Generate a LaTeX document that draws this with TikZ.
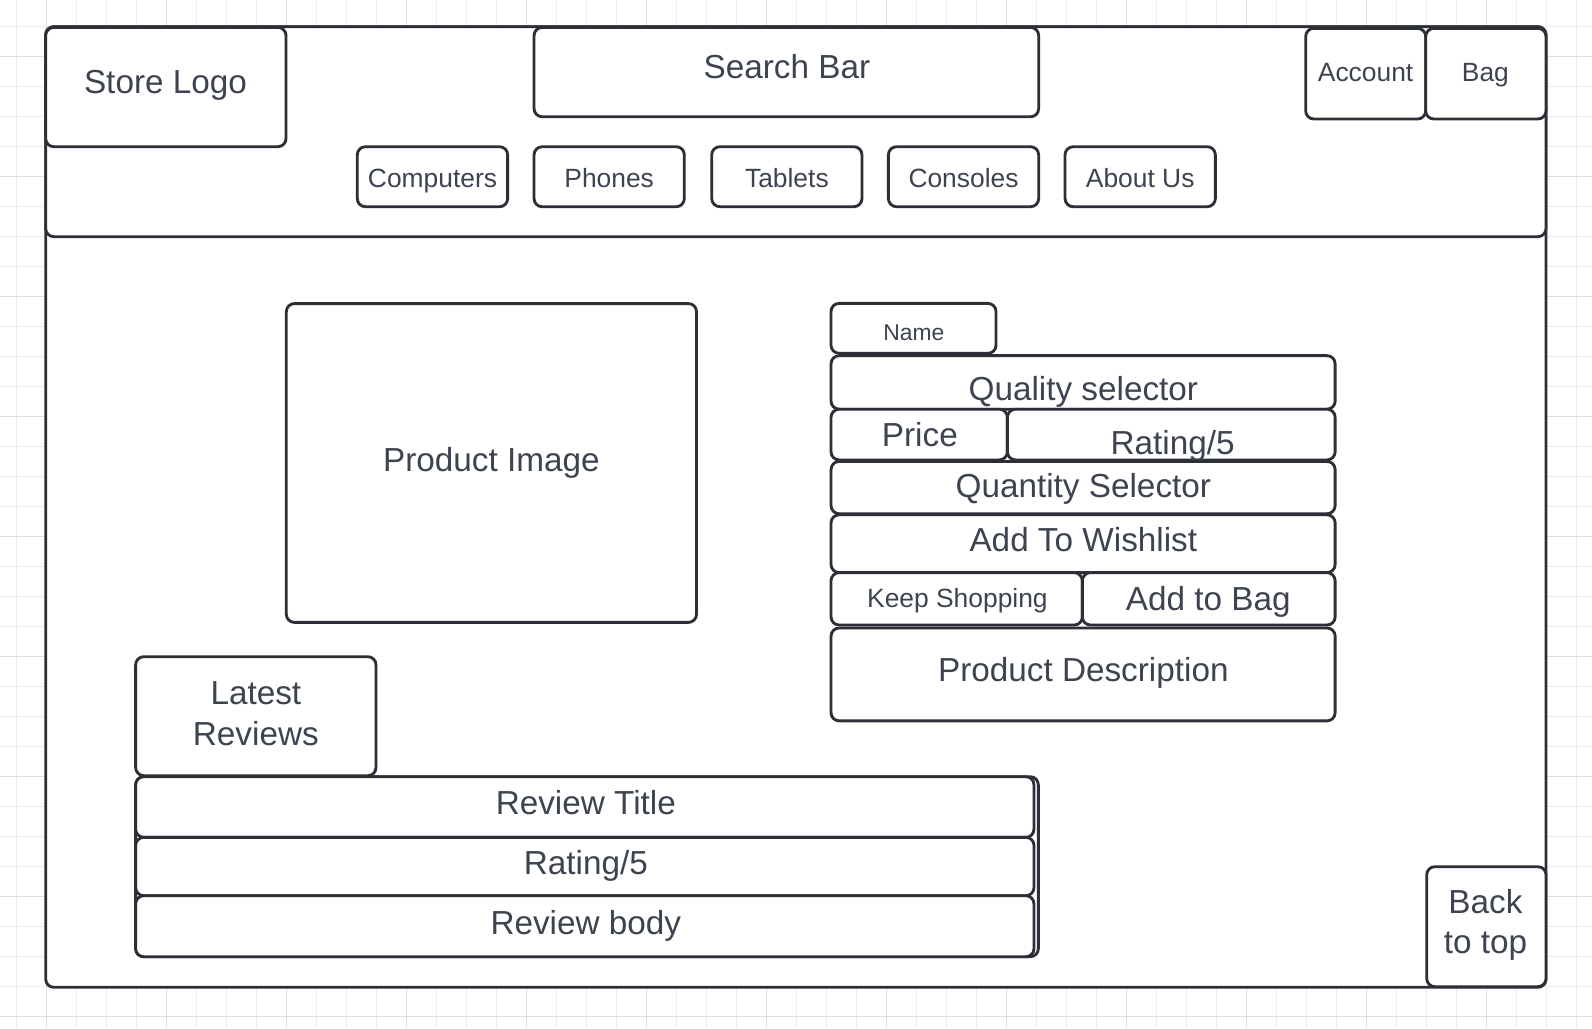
\documentclass[tikz,border=0pt]{standalone}
\usepackage{fontspec}
\setmainfont{Liberation Sans}
\definecolor{ln}{HTML}{2C2F36}
\definecolor{tx}{HTML}{3D4450}
\definecolor{gmin}{HTML}{EBEBEB}
\definecolor{gmaj}{HTML}{DDDDDD}
\tikzset{
  boxst/.style={draw=ln, line width=2.8pt, rounded corners=8pt, fill=white, inner sep=0pt, outer sep=0pt},
  txt/.style={text=tx, inner sep=0pt, outer sep=0pt, anchor=base},
  gridmin/.style={draw=gmin, line width=1pt},
  gridmaj/.style={draw=gmaj, line width=1pt},
}
\newcommand\fsz[1]{\fontsize{#1}{#1}\selectfont}
\newcommand\wbox[5]{\node[boxst, minimum width={#4pt-#2pt}, minimum height={#5pt-#3pt}] (#1) at ({(#2+#4)/2},{(#3+#5)/2}) {};}
\begin{document}
\begin{tikzpicture}[x=1pt,y=-1pt]
\fill[white] (0,0) rectangle (1568,1012.5);
\useasboundingbox (0,0) rectangle (1568,1012.5);
% grid
\foreach \i in {0,...,52} \draw[gridmin] ({16.45+29.55*\i},0) -- ({16.45+29.55*\i},1012.5);
\foreach \j in {0,...,33} \draw[gridmin] (0,{26.3+29.55*\j}) -- (1568,{26.3+29.55*\j});
\foreach \i in {0,...,12} \draw[gridmaj] ({46+118.2*\i},0) -- ({46+118.2*\i},1012.5);
\foreach \j in {0,...,8} \draw[gridmaj] (0,{55.8+118.2*\j}) -- (1568,{55.8+118.2*\j});
% frames
\wbox{page}{45}{26.3}{1522.7}{972.4}
\wbox{header}{45}{26.3}{1522.7}{233.1}
% header
\wbox{logo}{45}{27}{281.7}{144.5}
\node[txt, font=\fsz{32.8}] (logo-t) at (163,92) {Store Logo};
\wbox{search}{526}{27}{1023}{115}
\node[txt, font=\fsz{32.8}] (search-t) at (775,77) {Search Bar};
\wbox{account}{1286}{27.9}{1404.2}{117.2}
\node[txt, font=\fsz{26}] (account-t) at (1345,80.4) {Account};
\wbox{bag}{1404.2}{27.9}{1522.7}{117.2}
\node[txt, font=\fsz{26}] (bag-t) at (1463,80.4) {Bag};
\wbox{computers}{351.9}{144.5}{500}{203.6}
\node[txt, font=\fsz{26}] (computers-t) at (426,184.3) {Computers};
\wbox{phones}{526}{144.5}{674}{203.6}
\node[txt, font=\fsz{26}] (phones-t) at (600,184.3) {Phones};
\wbox{tablets}{701}{144.5}{849}{203.6}
\node[txt, font=\fsz{26}] (tablets-t) at (775,184.3) {Tablets};
\wbox{consoles}{875}{144.5}{1023}{203.6}
\node[txt, font=\fsz{26}] (consoles-t) at (949,184.3) {Consoles};
\wbox{about}{1049}{144.5}{1197}{203.6}
\node[txt, font=\fsz{26}] (about-t) at (1123,184.3) {About Us};
% product
\wbox{image}{282}{299}{686}{613}
\node[txt, font=\fsz{32.8}] (image-t) at (484,464) {Product Image};
\wbox{name}{818.5}{298.8}{981}{348}
\node[txt, font=\fsz{22.5}] (name-t) at (900,335.3) {Name};
\wbox{quality}{818.5}{350.3}{1315}{403}
\node[txt, font=\fsz{32.8}] (quality-t) at (1067,394.5) {Quality selector};
\wbox{price}{818.5}{403}{992.2}{453}
\node[txt, font=\fsz{32.8}] (price-t) at (906,439.5) {Price};
\wbox{rating}{992.2}{403}{1315}{453}
\node[txt, font=\fsz{32.8}] (rating-t) at (1155,448) {Rating/5};
\wbox{quantity}{818.5}{454.5}{1315}{506}
\node[txt, font=\fsz{32.8}] (quantity-t) at (1067,489.5) {Quantity Selector};
\wbox{wishlist}{818.5}{507}{1315}{564}
\node[txt, font=\fsz{32.8}] (wishlist-t) at (1067,543.5) {Add To Wishlist};
\wbox{keep}{818.5}{564}{1066}{615.6}
\node[txt, font=\fsz{26}] (keep-t) at (943,598) {Keep Shopping};
\wbox{addbag}{1066}{564}{1315}{615.6}
\node[txt, font=\fsz{32.8}] (addbag-t) at (1190,601) {Add to Bag};
\wbox{desc}{818.5}{618.5}{1315}{710}
\node[txt, font=\fsz{32.8}] (desc-t) at (1067,671.5) {Product Description};
% reviews
\wbox{latest}{133.6}{646.8}{370.3}{764}
\node[txt, font=\fsz{32.8}] (latest-a) at (252,693.4) {Latest};
\node[txt, font=\fsz{32.8}] (latest-b) at (252,733.8) {Reviews};
\wbox{reviews}{133.6}{765}{1022.7}{942.3}
\wbox{rtitle}{133.6}{765}{1018.4}{824.7}
\node[txt, font=\fsz{32.8}] (rtitle-t) at (577,802.5) {Review Title};
\wbox{rrating}{133.6}{824.7}{1018.4}{882.2}
\node[txt, font=\fsz{32.8}] (rrating-t) at (577,861) {Rating/5};
\wbox{rbody}{133.6}{882.2}{1018.4}{942.3}
\node[txt, font=\fsz{32.8}] (rbody-t) at (577,920) {Review body};
% back to top
\wbox{back}{1405.2}{853.6}{1522.7}{971.8}
\node[txt, font=\fsz{32.8}] (back-a) at (1463,900.2) {Back};
\node[txt, font=\fsz{32.8}] (back-b) at (1463,938.9) {to top};
\end{tikzpicture}
\end{document}
